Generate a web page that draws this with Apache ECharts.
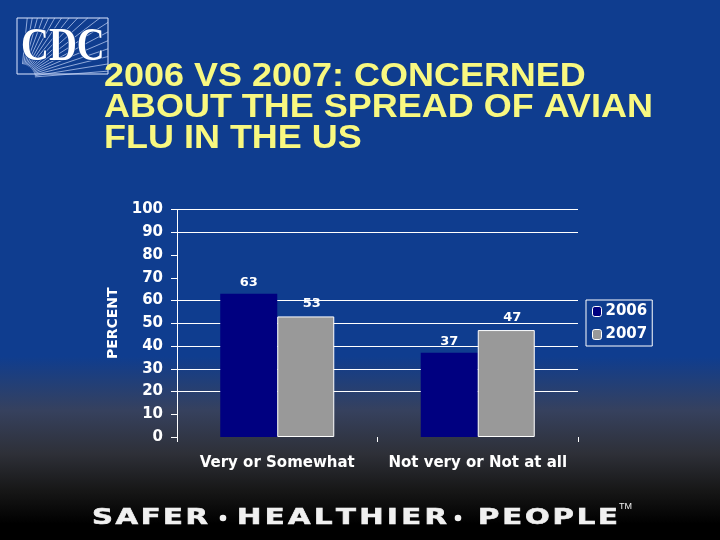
<!DOCTYPE html>
<html><head><meta charset="utf-8">
<script src="https://cdn.jsdelivr.net/npm/echarts@6/dist/echarts.min.js"></script>
<style>html,body{margin:0;padding:0;background:#000}#c{width:720px;height:540px}</style>
</head><body><div id="c"></div>
<script>
const categories = ['Very or Somewhat', 'Not very or Not at all'];
const seriesNames = ['2006', '2007'];
const values2006 = [63, 37];
const values2007 = [53, 47];
const yTicks = [0, 10, 20, 30, 40, 50, 60, 70, 80, 90, 100];
const titleLines = ['2006 VS 2007: CONCERNED', 'ABOUT THE SPREAD OF AVIAN', 'FLU IN THE US'];
const footerWords = ['SAFER', 'HEALTHIER', 'PEOPLE'];

const chart = echarts.init(document.getElementById('c'), null, {renderer: 'canvas'});

// logo lines
const logo = {x: 17, y: 18, w: 91, h: 56};
const logoLines = [];
const ox = logo.x + 4, oy = logo.y + logo.h + 4;
for (let i = 0; i < 18; i++) {
  const a = (Math.PI / 2) * (0.05 + i * 0.052);
  const dx = Math.cos(a), dy = -Math.sin(a);
  const tR = (logo.x + logo.w - ox) / dx;
  const tT = (oy - logo.y) / -dy;
  const t = Math.min(tR, tT);
  logoLines.push({type: 'line', shape: {x1: ox + dx * 14, y1: oy + dy * 14, x2: ox + dx * t, y2: oy + dy * t},
    style: {stroke: 'rgba(200,215,250,0.7)', lineWidth: 1}, silent: true});
}

// footer: words spread over given spans, bullets between
const cv = document.createElement('canvas').getContext('2d');
const footFont = 'bold 20.5px "DejaVu Sans"';
cv.font = footFont;
const sX = 1.42;
const spans = [[92, 208], [237, 447], [478, 618]];
const footer = [];
footerWords.forEach((word, wi) => {
  const chars = [...word];
  const widths = chars.map(ch => cv.measureText(ch).width * sX);
  const sumW = widths.reduce((a, b) => a + b, 0);
  const sp = (spans[wi][1] - spans[wi][0] - sumW) / (chars.length - 1);
  let fx = spans[wi][0];
  chars.forEach((ch, i) => {
    footer.push({type: 'text', x: fx, y: 508.5, scaleX: sX,
      style: {text: ch, font: footFont, fill: '#f0f0f0', stroke: '#f0f0f0', lineWidth: 0.6}, silent: true});
    fx += widths[i] + sp;
  });
});
[223, 458].forEach(cx => footer.push({type: 'circle', shape: {cx: cx, cy: 518, r: 3.3}, style: {fill: '#f0f0f0'}, silent: true}));
footer.push({type: 'text', x: 619, y: 502, style: {text: 'TM', font: '9px "Liberation Sans"', fill: '#f0f0f0'}, silent: true});

const gridColors = yTicks.map(v => (v === 0 || v === 10 || v === 70 || v === 80) ? 'rgba(0,0,0,0)' : '#ffffff');

chart.setOption({
  backgroundColor: new echarts.graphic.LinearGradient(0, 0, 0, 1, [
    {offset: 0, color: '#0f3d8f'},
    {offset: 0.66, color: '#0f3d8f'},
    {offset: 0.76, color: '#36415e'},
    {offset: 0.84, color: '#2e3038'},
    {offset: 0.91, color: '#161616'},
    {offset: 0.97, color: '#000000'},
    {offset: 1, color: '#000000'}
  ]),
  animation: false,
  grid: {left: 177, right: 142, top: 209.5, bottom: 103, containLabel: false},
  legend: {
    data: seriesNames, orient: 'vertical', left: 586, top: 300,
    borderColor: '#ffffff', borderWidth: 1, padding: [4, 5, 4, 6],
    itemWidth: 9, itemHeight: 10, itemGap: 8,
    itemStyle: {borderColor: '#ffffff', borderWidth: 1},
    textStyle: {color: '#ffffff', fontFamily: 'DejaVu Sans', fontWeight: 'bold', fontSize: 15, padding: [0, 0, 0, -1]}
  },
  xAxis: {
    type: 'category', data: categories,
    axisLine: {show: false},
    axisTick: {show: true, length: 5, lineStyle: {color: '#ffffff'}},
    axisLabel: {interval: 0, color: '#ffffff', fontFamily: 'DejaVu Sans', fontWeight: 'bold', fontSize: 15, margin: 19}
  },
  yAxis: {
    type: 'value', min: 0, max: 100, interval: 10,
    name: 'PERCENT', nameLocation: 'middle', nameGap: 54, nameRotate: 90,
    nameTextStyle: {color: '#ffffff', fontFamily: 'DejaVu Sans', fontWeight: 'bold', fontSize: 14},
    axisLine: {show: true, lineStyle: {color: '#ffffff', width: 1}},
    axisTick: {show: true, length: 6, lineStyle: {color: '#ffffff'}},
    axisLabel: {color: '#ffffff', fontFamily: 'DejaVu Sans', fontWeight: 'bold', fontSize: 15, margin: 14},
    splitLine: {show: true, lineStyle: {color: gridColors, width: 1}}
  },
  series: [
    {name: seriesNames[0], type: 'bar', data: values2006, barWidth: 57, barGap: '0%',
     itemStyle: {color: '#000080'},
     label: {show: true, position: 'top', distance: 5, color: '#ffffff', fontFamily: 'DejaVu Sans', fontWeight: 'bold', fontSize: 13}},
    {name: seriesNames[1], type: 'bar', data: values2007, barWidth: 57, barGap: '0%',
     itemStyle: {color: '#999999', borderColor: '#ffffff', borderWidth: 1},
     label: {show: true, position: 'top', distance: 6, offset: [6, 0], color: '#ffffff', fontFamily: 'DejaVu Sans', fontWeight: 'bold', fontSize: 13}}
  ],
  graphic: [
    {type: 'rect', shape: {x: logo.x, y: logo.y, width: logo.w, height: logo.h}, style: {fill: 'none', stroke: '#dfe8ff', lineWidth: 1}, silent: true},
    ...logoLines,
    {type: 'text', x: 21, y: 25, scaleX: 0.84, style: {text: 'CDC', font: 'bold 46px "Liberation Serif"', fill: '#ffffff', stroke: '#0f3d8f', lineWidth: 1.5}, silent: true},
    {type: 'text', x: 104, y: 61, scaleX: 1.09, style: {text: titleLines.join('\n'), font: 'bold 33px "Liberation Sans"', lineHeight: 31, fill: '#f8f880'}, silent: true},
    ...footer
  ]
});
</script></body></html>
